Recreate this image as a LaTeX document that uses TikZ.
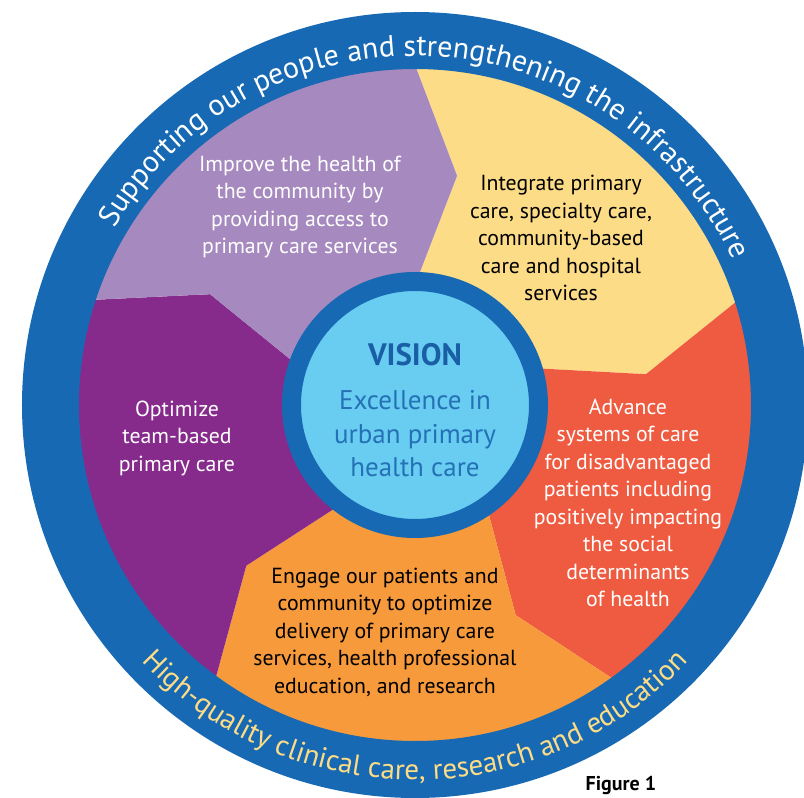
\documentclass[tikz,border=0pt]{standalone}
\usepackage{fontspec}
\setmainfont{PT Sans}
\usetikzlibrary{decorations.text}
\definecolor{ringblue}{HTML}{1769B3}
\definecolor{hubblue}{HTML}{69CDF2}
\definecolor{visionblue}{HTML}{1A5FA6}
\definecolor{excelblue}{HTML}{2471B6}
\definecolor{seglight}{HTML}{A689BE}
\definecolor{segyellow}{HTML}{FDDC87}
\definecolor{segred}{HTML}{EF5B40}
\definecolor{segorange}{HTML}{F79A3B}
\definecolor{segdark}{HTML}{862A8C}
\definecolor{ringyellow}{HTML}{FDDC87}

\begin{document}
\begin{tikzpicture}[x=1pt,y=1pt,
    body/.style={align=center,font=\fontsize{21.8}{27.5}\selectfont},
    hub/.style={circle,fill=hubblue,draw=ringblue,line width=19pt,minimum size=247pt,inner sep=0pt}]
  \useasboundingbox (-415,-393) rectangle (389,405);
  \clip (-415,-393) rectangle (389,405);
  % five chevron segments
  \foreach \c [count=\k from 0] in {segyellow,segred,segorange,segdark,seglight}{
    \pgfmathsetmacro\a{90-72*\k}
    \pgfmathsetmacro\b{\a-72}
    \fill[\c] (\a:120) -- (\a-10.4:233) -- (\a:340)
      arc[start angle=\a,end angle=\b,radius=340]
      -- (\b-10.4:233) -- (\b:120) -- cycle;
  }
  % outer ring
  \fill[ringblue,even odd rule] (0,0) circle (393) circle (336);
  \path[decorate,decoration={text along path,text align=center,text color=white,
    text={|\fontsize{30}{32}\selectfont|Supporting our people and strengthening the infrastructure}}]
    (152:349) arc[start angle=152,end angle=22,radius=349];
  \path[decorate,decoration={text along path,text align=center,text color=ringyellow,
    text={|\fontsize{29}{31}\selectfont|High-quality clinical care, research and education}}]
    (222:375) arc[start angle=222,end angle=318,radius=375];
  % centre
  \node[hub] (hub) at (0,0) {};
  \node[font=\fontsize{31}{33}\selectfont\bfseries,text=visionblue] (vision) at (0,50) {VISION};
  \node[align=center,font=\fontsize{27}{33.5}\selectfont,text=excelblue] (excellence) at (0,-29)
    {Excellence in\\urban primary\\health care};
  % segment texts
  \node[body,text=white] (improve) at (-115,198)
    {Improve the health of\\the community by\\providing access to\\primary care services};
  \node[body,text=black] (integrate) at (146,167)
    {Integrate primary\\care, specialty care,\\community-based\\care and hospital\\services};
  \node[body,text=white] (advance) at (213,-98)
    {Advance\\systems of care\\for disadvantaged\\patients including\\positively impacting\\the social\\determinants\\of health};
  \node[body,text=black] (engage) at (-30,-227)
    {Engage our patients and\\community to optimize\\delivery of primary care\\services, health professional\\education, and research};
  \node[body,text=white] (optimize) at (-238,-33)
    {Optimize\\team-based\\primary care};
  \node[font=\fontsize{20}{22}\selectfont\bfseries] (fig) at (206,-380) {Figure 1};
\end{tikzpicture}
\end{document}
